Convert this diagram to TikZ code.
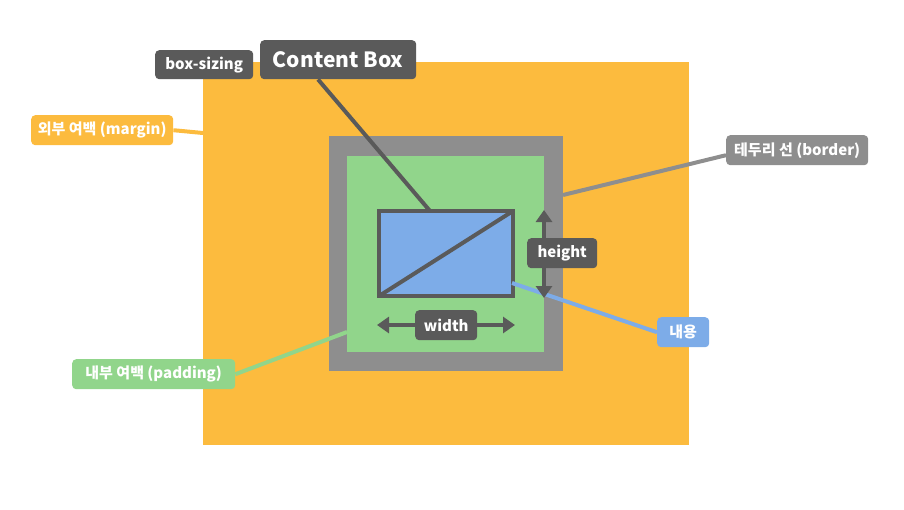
\documentclass[tikz,border=0pt]{standalone}
\usepackage{fontspec}
\setmainfont{Noto Sans CJK KR}[BoldFont={Noto Sans CJK KR Black}]
\usepackage{tikz}
\usetikzlibrary{arrows.meta,positioning}
\definecolor{mymargin}{RGB}{252,187,62}
\definecolor{myborder}{RGB}{142,142,142}
\definecolor{mypadding}{RGB}{145,213,139}
\definecolor{mycontent}{RGB}{125,172,232}
\definecolor{mydark}{RGB}{90,90,90}
\pgfdeclarelayer{back}
\pgfdeclarelayer{mid}
\pgfsetlayers{back,mid,main}
\begin{document}
\begin{tikzpicture}[
  x=1pt,y=-1pt,
  mytag/.style={
    fill=#1,
    rounded corners=4pt,
    text=white,
    font=\bfseries\fontsize{15}{17}\selectfont,
    minimum height=30pt,
    inner xsep=5pt,
    anchor=north west
    },
  myline/.style={
    draw=#1,
    line width=4pt
    },
  myarrow/.style={
    draw=mydark,
    line width=4pt,
    {Triangle[width=16pt,length=12pt]}-{Triangle[width=16pt,length=12pt]}
    }
]

\useasboundingbox (0,0) rectangle (904,509);

% boxes
\begin{pgfonlayer}{back}
\fill[mymargin] (203,62) coordinate (mtl) rectangle (689,445);
\fill[myborder] (329,136) coordinate (btl) rectangle (563,371) coordinate (bbr);
\fill[mypadding] (347,156) coordinate (ptl) rectangle (544,352) coordinate (pbr);
\draw[fill=mycontent,draw=mydark,line width=4pt] (379,211) coordinate (c1) rectangle (513,296) coordinate (c2);
\draw[mydark,line width=4pt] (c1 |- c2) -- (c2 |- c1);
\end{pgfonlayer}
\coordinate (ctop) at (430,211);
\coordinate (mside) at (203,133);
\coordinate (bside) at (563,195);
\coordinate (pside) at (347,332);
\coordinate (cside) at (512,283);

% labels
\node[mytag=mydark,minimum width=156pt,minimum height=39pt,font=\bfseries\fontsize{21}{25}\selectfont] (content) at (260,40) {Content Box};
\node[mytag=mydark,minimum width=98pt,minimum height=29pt] (sizing) at (155,50) {box-sizing};
\node[mytag=mymargin,minimum width=142pt] (margin) at (31,115) {외부 여백 (margin)};
\node[mytag=myborder,minimum width=142pt] (border) at (726,135) {테두리 선 (border)};
\node[mytag=mypadding,minimum width=163pt] (padding) at (72,359) {내부 여백 (padding)};
\node[mytag=mycontent,minimum width=52pt] (inner) at (657,317) {내용};

% connectors
\begin{pgfonlayer}{mid}
\draw[myline=mydark] ([xshift=58pt]content.south west) -- (ctop);
\draw[myline=mymargin] (margin.east) -- (mside);
\draw[myline=myborder] ([yshift=-5pt]border.west) -- (bside);
\draw[myline=mypadding] (padding.east) -- (pside);
\draw[myline=mycontent] (inner.west) -- (cside);
\end{pgfonlayer}

% dimensions
\draw[myarrow] (544,210) -- (544,298);
\draw[myarrow] (377,325) -- (515,325);
\node[mytag=mydark,minimum width=70pt] (height) at (527,238) {height};
\node[mytag=mydark,minimum width=62pt] (width) at (415,310) {width};

\end{tikzpicture}
\end{document}
